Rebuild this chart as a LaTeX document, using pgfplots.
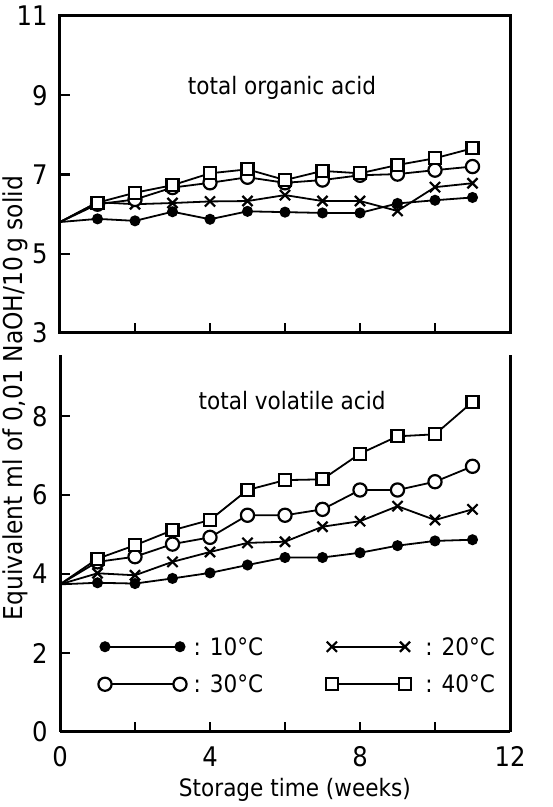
\documentclass[border=0pt]{standalone}
\usepackage{fontspec}
\setmainfont{DejaVu Sans Condensed}
\usepackage{pgfplots}
\pgfplotsset{compat=1.18}
\begin{document}
\fontsize{12}{14}\selectfont
\begin{tikzpicture}
\path[use as bounding box] (0,0) rectangle (276pt,403.5pt);
\pgfplotsset{
 myax/.style={scale only axis, width=225pt, xmin=0, xmax=12, tick align=inside,
   xtick pos=bottom, ytick pos=left, axis line style={line width=1.5pt},
   major tick length=5pt, every tick/.style={line width=1.2pt,black},
   /pgf/number format/assume math mode=true,
   tick label style={font=\fontsize{13.5}{15}\selectfont},
   yticklabel style={xshift=-2pt}, xticklabel style={yshift=-3pt}, clip=false},
 s10/.style={black, line width=0.9pt, mark=*, mark size=2.3pt},
 s20/.style={black, line width=0.9pt, mark=x, mark size=3.6pt, mark options={line width=1.1pt}},
 s30/.style={black, line width=0.9pt, mark=*, mark size=3.3pt, mark options={fill=white, line width=1.1pt}},
 s40/.style={black, line width=0.9pt, mark=square*, mark size=3pt, mark options={fill=white, line width=1.1pt}},
 nz/.style={mark indices={2,...,12}},
}
% top panel
\begin{axis}[myax, at={(30pt,237pt)}, anchor=south west, height=158.5pt,
  ymin=3, ymax=11, ytick={3,5,7,9,11}, xtick={2,4,...,10}, xticklabels={}]
\addplot[s10,nz] coordinates {(0,5.8) (1,5.88) (2,5.83) (3,6.06) (4,5.87) (5,6.07) (6,6.05) (7,6.03) (8,6.03) (9,6.27) (10,6.35) (11,6.42)};
\addplot[s20,nz] coordinates {(0,5.8) (1,6.3) (2,6.25) (3,6.28) (4,6.32) (5,6.33) (6,6.48) (7,6.33) (8,6.33) (9,6.08) (10,6.68) (11,6.78)};
\addplot[s30,nz] coordinates {(0,5.8) (1,6.25) (2,6.37) (3,6.67) (4,6.79) (5,6.93) (6,6.79) (7,6.86) (8,6.98) (9,7.01) (10,7.11) (11,7.2)};
\addplot[s40,nz] coordinates {(0,5.8) (1,6.29) (2,6.54) (3,6.73) (4,7.03) (5,7.13) (6,6.86) (7,7.09) (8,7.03) (9,7.24) (10,7.41) (11,7.66)};
\node at (axis cs:5.92,9.18) {total organic acid};
\end{axis}
% bottom panel
\begin{axis}[myax, at={(30pt,37.5pt)}, anchor=south west, height=188.5pt,
  axis x line*=bottom, x axis line style={-}, y axis line style={-},
  ymin=0, ymax=9.55, ytick={0,2,4,6,8}, xtick={0,2,...,12}, xticklabels={0,,4,,8,,12},
  xlabel={Storage time (weeks)},
  xlabel style={anchor=center, at={(axis description cs:0.522,0)}, yshift=-29pt}]
\addplot[s10,nz] coordinates {(0,3.74) (1,3.78) (2,3.76) (3,3.89) (4,4.03) (5,4.23) (6,4.42) (7,4.42) (8,4.54) (9,4.72) (10,4.84) (11,4.87)};
\addplot[s20,nz] coordinates {(0,3.74) (1,4.02) (2,3.97) (3,4.31) (4,4.56) (5,4.79) (6,4.82) (7,5.2) (8,5.34) (9,5.72) (10,5.37) (11,5.64)};
\addplot[s30,nz] coordinates {(0,3.74) (1,4.31) (2,4.44) (3,4.76) (4,4.93) (5,5.49) (6,5.49) (7,5.64) (8,6.13) (9,6.13) (10,6.34) (11,6.73)};
\addplot[s40,nz] coordinates {(0,3.74) (1,4.39) (2,4.73) (3,5.11) (4,5.37) (5,6.13) (6,6.38) (7,6.4) (8,7.05) (9,7.49) (10,7.54) (11,8.36)};
\node at (axis cs:6.19,8.4) {total volatile acid};
% legend
\addplot[s10, forget plot] coordinates {(1.2,2.16) (3.2,2.16)};
\addplot[s30, forget plot] coordinates {(1.2,1.21) (3.2,1.21)};
\addplot[s20, forget plot] coordinates {(7.25,2.16) (9.2,2.16)};
\addplot[s40, forget plot] coordinates {(7.25,1.21) (9.2,1.21)};
\node[anchor=west, inner sep=0pt] at (axis cs:3.55,2.16) {: 10°C};
\node[anchor=west, inner sep=0pt] at (axis cs:3.55,1.21) {: 30°C};
\node[anchor=west, inner sep=0pt] at (axis cs:9.73,2.16) {: 20°C};
\node[anchor=west, inner sep=0pt] at (axis cs:9.73,1.21) {: 40°C};
\end{axis}
\node[rotate=90, font=\fontsize{13}{15}\selectfont] at (7.5pt,204.5pt) {Equivalent ml of 0,01 NaOH/10\,g solid};
\end{tikzpicture}
\end{document}
